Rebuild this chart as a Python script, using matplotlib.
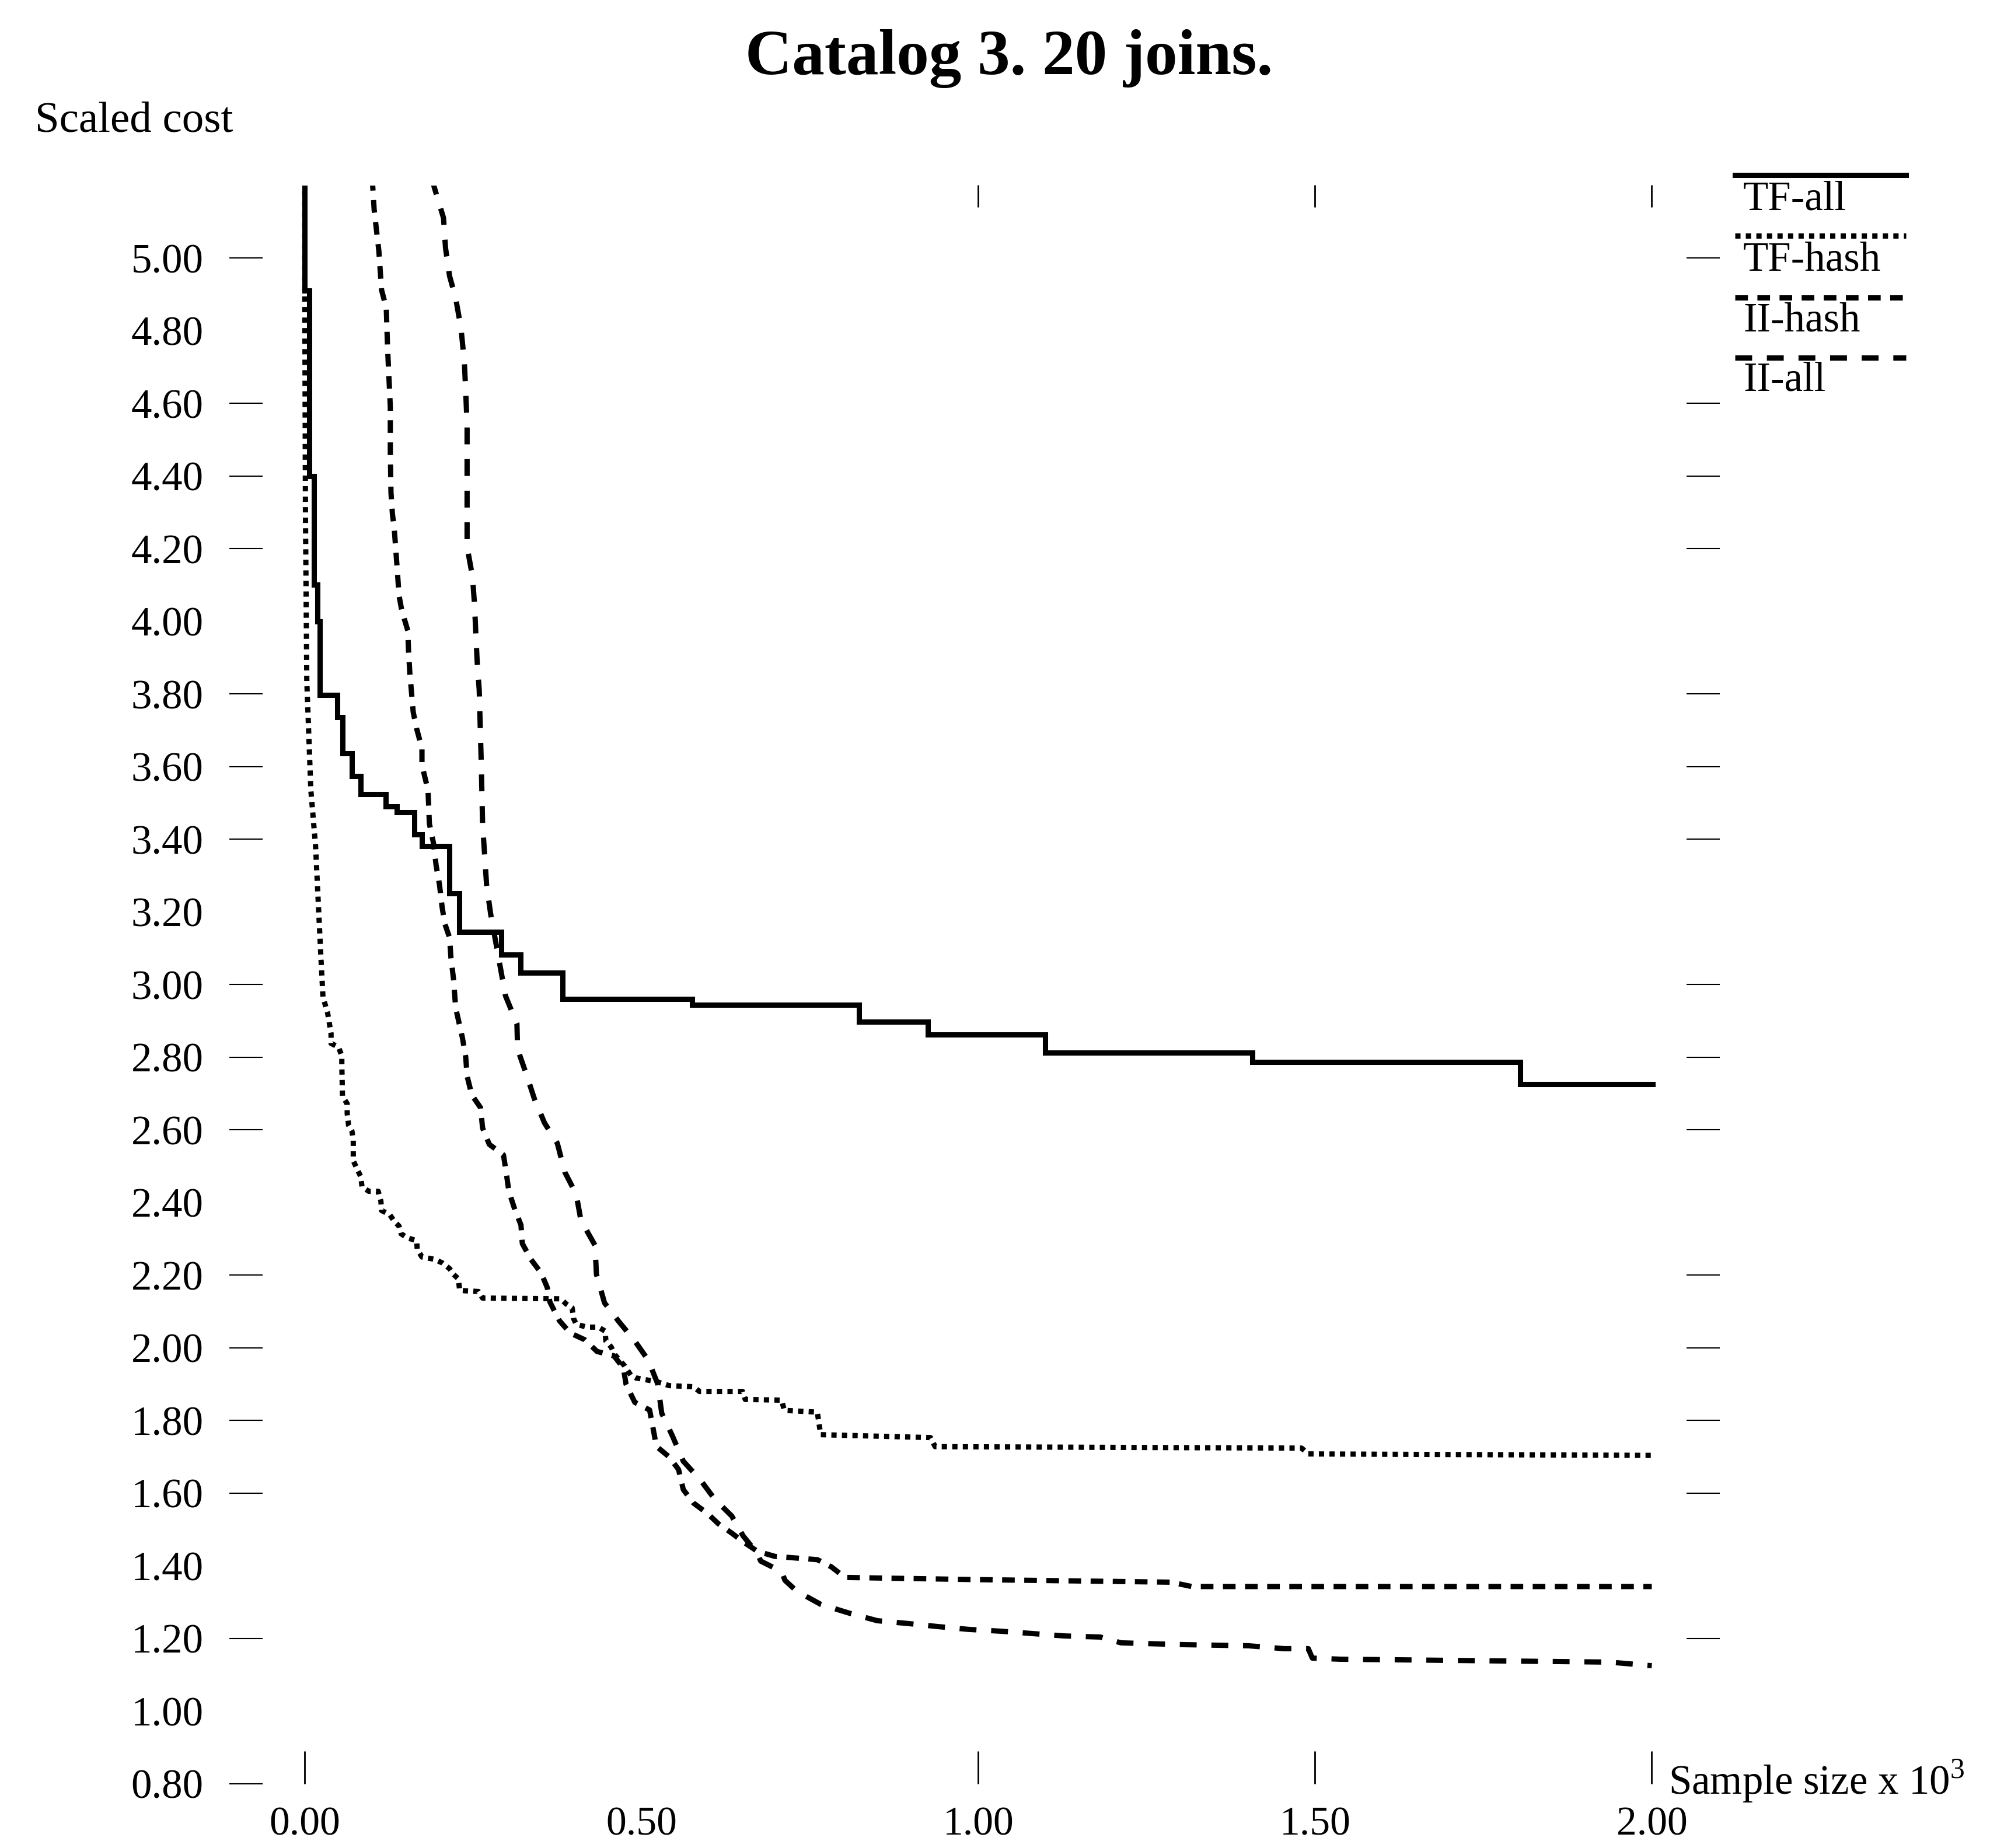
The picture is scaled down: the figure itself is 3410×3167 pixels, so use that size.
import matplotlib
matplotlib.use("Agg")
import matplotlib.pyplot as plt
from matplotlib.lines import Line2D

plt.rcParams['font.family'] = ['Liberation Serif', 'DejaVu Serif']
plt.rcParams['mathtext.fontset'] = 'custom'
plt.rcParams['mathtext.rm'] = 'Liberation Serif'

# ---------------- data ----------------
title = "Catalog 3. 20 joins."
y_label = "Scaled cost"
x_label = r"Sample size x 10$^{3}$"
series_names = ["TF-all", "TF-hash", "II-hash", "II-all"]

y_tick_values = [0.80, 1.00, 1.20, 1.40, 1.60, 1.80, 2.00, 2.20, 2.40, 2.60, 2.80,
                 3.00, 3.20, 3.40, 3.60, 3.80, 4.00, 4.20, 4.40, 4.60, 4.80, 5.00]
y_left_marks = [0.80, 1.20, 1.60, 1.80, 2.00, 2.20, 2.60, 2.80, 3.00, 3.40, 3.60,
                3.80, 4.20, 4.40, 4.60, 5.00]
y_right_marks = [1.20, 1.60, 1.80, 2.00, 2.20, 2.60, 2.80, 3.00, 3.40, 3.60,
                 3.80, 4.20, 4.40, 4.60, 5.00]
x_tick_values = [0.00, 0.50, 1.00, 1.50, 2.00]
x_bottom_marks = [0.00, 1.00, 1.50, 2.00]
x_top_marks = [1.00, 1.50, 2.00]

# TF-all: step curve (drop positions + end, level before first drop then levels after each drop)
tf_all_x = [0.000, 0.007, 0.014, 0.019, 0.022, 0.048, 0.056, 0.070, 0.083, 0.120,
            0.137, 0.163, 0.174, 0.215, 0.229, 0.292, 0.320, 0.383, 0.575, 0.823,
            0.925, 1.099, 1.407, 1.805, 2.001]
tf_all_y = [5.30, 4.91, 4.40, 4.10, 4.00, 3.797, 3.736, 3.636, 3.573, 3.524,
            3.490, 3.474, 3.413, 3.381, 3.251, 3.145, 3.082, 3.032, 2.960, 2.944,
            2.897, 2.862, 2.812, 2.786, 2.725]

tf_hash_x = [0.000, 0.000, 0.001, 0.003, 0.009, 0.016, 0.020, 0.024, 0.027, 0.034,
             0.039, 0.039, 0.050, 0.055, 0.055, 0.056, 0.063, 0.063, 0.065, 0.070,
             0.072, 0.072, 0.078, 0.083, 0.085, 0.095, 0.109, 0.113, 0.114, 0.126,
             0.133, 0.140, 0.143, 0.152, 0.166, 0.167, 0.174, 0.192, 0.204, 0.215,
             0.221, 0.228, 0.230, 0.258, 0.264, 0.380, 0.388, 0.397, 0.399, 0.403,
             0.419, 0.436, 0.446, 0.447, 0.455, 0.460, 0.475, 0.484, 0.492, 0.507,
             0.524, 0.541, 0.577, 0.586, 0.650, 0.654, 0.708, 0.712, 0.761, 0.766,
             0.929, 0.936, 1.480, 1.490, 2.000]
tf_hash_y = [5.30, 4.92, 4.30, 3.835, 3.535, 3.382, 3.227, 3.073, 2.966, 2.921,
             2.865, 2.838, 2.828, 2.804, 2.777, 2.692, 2.672, 2.645, 2.613, 2.597,
             2.571, 2.515, 2.491, 2.472, 2.443, 2.431, 2.431, 2.404, 2.378, 2.367,
             2.348, 2.335, 2.314, 2.303, 2.295, 2.271, 2.250, 2.244, 2.234, 2.218,
             2.202, 2.190, 2.158, 2.155, 2.137, 2.135, 2.121, 2.110, 2.081, 2.065,
             2.057, 2.057, 2.046, 2.019, 2.002, 1.982, 1.950, 1.925, 1.917, 1.912,
             1.906, 1.896, 1.893, 1.880, 1.880, 1.858, 1.856, 1.828, 1.823, 1.761,
             1.753, 1.728, 1.724, 1.708, 1.704]

ii_hash_x = [0.100, 0.101, 0.103, 0.110, 0.114, 0.121, 0.123, 0.127, 0.127, 0.128,
             0.130, 0.133, 0.137, 0.140, 0.144, 0.153, 0.154, 0.156, 0.161, 0.166,
             0.174, 0.174, 0.183, 0.185, 0.191, 0.195, 0.200, 0.204, 0.208, 0.215,
             0.217, 0.221, 0.224, 0.234, 0.239, 0.241, 0.248, 0.261, 0.264, 0.274,
             0.295, 0.299, 0.303, 0.312, 0.321, 0.323, 0.336, 0.351, 0.360, 0.364,
             0.378, 0.394, 0.416, 0.434, 0.459, 0.473, 0.477, 0.490, 0.512, 0.519,
             0.522, 0.541, 0.555, 0.562, 0.577, 0.598, 0.614, 0.634, 0.651, 0.672,
             0.698, 0.761, 0.782, 0.802, 1.000, 1.286, 1.317, 2.000]
ii_hash_y = [5.22, 5.194, 5.133, 5.019, 4.912, 4.862, 4.748, 4.590, 4.467, 4.354,
             4.298, 4.251, 4.150, 4.070, 4.030, 3.974, 3.920, 3.857, 3.750, 3.705,
             3.650, 3.604, 3.535, 3.443, 3.390, 3.328, 3.275, 3.212, 3.167, 3.129,
             3.074, 3.013, 2.936, 2.854, 2.800, 2.748, 2.696, 2.661, 2.605, 2.560,
             2.531, 2.484, 2.431, 2.380, 2.338, 2.287, 2.243, 2.206, 2.166, 2.126,
             2.075, 2.041, 2.022, 1.990, 1.978, 1.945, 1.900, 1.850, 1.829, 1.760,
             1.729, 1.700, 1.665, 1.610, 1.573, 1.544, 1.516, 1.490, 1.466, 1.440,
             1.426, 1.417, 1.397, 1.368, 1.362, 1.355, 1.343, 1.343]

ii_all_x = [0.190, 0.192, 0.206, 0.209, 0.215, 0.224, 0.232, 0.237, 0.239, 0.241,
            0.241, 0.241, 0.249, 0.252, 0.254, 0.256, 0.259, 0.262, 0.264, 0.270,
            0.276, 0.298, 0.315, 0.316, 0.329, 0.341, 0.356, 0.375, 0.386, 0.403,
            0.410, 0.431, 0.433, 0.445, 0.466, 0.490, 0.510, 0.524, 0.530, 0.546,
            0.562, 0.588, 0.608, 0.634, 0.651, 0.672, 0.677, 0.708, 0.713, 0.730,
            0.766, 0.808, 0.850, 0.897, 0.939, 0.986, 1.034, 1.128, 1.181, 1.212,
            1.307, 1.401, 1.454, 1.490, 1.496, 1.537, 1.937, 2.000]
ii_all_y = [5.22, 5.196, 5.110, 5.027, 4.950, 4.890, 4.806, 4.712, 4.630, 4.539,
            4.293, 4.205, 4.123, 4.047, 3.965, 3.888, 3.811, 3.612, 3.443, 3.273,
            3.194, 2.969, 2.892, 2.822, 2.753, 2.685, 2.619, 2.563, 2.484, 2.423,
            2.351, 2.282, 2.203, 2.124, 2.073, 2.019, 1.966, 1.901, 1.820, 1.757,
            1.688, 1.635, 1.585, 1.537, 1.482, 1.434, 1.413, 1.384, 1.360, 1.331,
            1.294, 1.270, 1.249, 1.241, 1.233, 1.225, 1.220, 1.207, 1.204, 1.188,
            1.183, 1.180, 1.172, 1.172, 1.146, 1.143, 1.135, 1.125]

# ---------------- styles / layout ----------------
W, H = 3410, 3167
LW = 6.5
styles = {
    "TF-all": "-",
    "TF-hash": (0, (1.0, 1.0)),
    "II-hash": (0, (2.4, 1.8)),
    "II-all": (0, (3.2, 2.8)),
}

fig = plt.figure(figsize=(W / 100, H / 100), dpi=100)
fig.patch.set_facecolor("white")
ax = fig.add_axes([393 / W, 1 - 3057 / H, (2947 - 393) / W, (3057 - 317.5) / H])
ax.set_xlim(-0.112, 2.101)
ax.set_ylim(0.80, 5.20)
for s in ax.spines.values():
    s.set_visible(False)

ax.step(tf_all_x, tf_all_y, where="pre", color="black", lw=LW,
        linestyle=styles["TF-all"], solid_joinstyle="miter")
ax.plot(tf_hash_x, tf_hash_y, color="black", lw=LW, linestyle=styles["TF-hash"])
ax.plot(ii_hash_x, ii_hash_y, color="black", lw=LW, linestyle=styles["II-hash"])
ax.plot(ii_all_x, ii_all_y, color="black", lw=LW, linestyle=styles["II-all"])

ax.xaxis.remove_overlapping_locs = False
ax.yaxis.remove_overlapping_locs = False

# y ticks (labels on the left; tick marks drawn separately as minor ticks)
ax.set_yticks(y_tick_values)
ax.set_yticklabels([f"{v:.2f}" for v in y_tick_values])
ax.tick_params(axis="y", which="major", length=0, pad=32, labelsize=51,
               left=True, right=False)
ax.set_yticks(y_left_marks, minor=True)
ax.tick_params(axis="y", which="minor", direction="in", length=41, width=1.5,
               left=True, right=False)

secy = ax.secondary_yaxis("right")
secy.set_yticks(y_right_marks)
secy.tick_params(axis="y", direction="in", length=41, width=1.5, labelright=False)
for s in secy.spines.values():
    s.set_visible(False)

# x ticks
ax.set_xticks(x_tick_values)
ax.set_xticklabels([f"{v:.2f}" for v in x_tick_values])
ax.tick_params(axis="x", which="major", length=0, pad=28, labelsize=50)
ax.set_xticks(x_bottom_marks, minor=True)
ax.tick_params(axis="x", which="minor", direction="in", length=40, width=2.0,
               bottom=True, top=False)

secx = ax.secondary_xaxis("top")
secx.set_xticks(x_top_marks)
secx.tick_params(axis="x", direction="in", length=27, width=2.0, labeltop=False)
for s in secx.spines.values():
    s.set_visible(False)

# texts
fig.text(1729 / W, 1 - 127 / H, title, ha="center", va="baseline",
         fontsize=80, fontweight="bold")
fig.text(60 / W, 1 - 225 / H, y_label, ha="left", va="baseline", fontsize=54)
fig.text(2859 / W, 1 - 3075 / H, x_label, ha="left", va="baseline", fontsize=51)

# legend (line sample above each name)
leg_line_y = [300, 404, 510, 613]
leg_text_y = [360, 464, 568, 670]
for name, ly, ty in zip(series_names, leg_line_y, leg_text_y):
    line = Line2D([2973 / W, 3266 / W], [1 - ly / H, 1 - ly / H],
                  transform=fig.transFigure, color="black", lw=LW,
                  linestyle=styles[name])
    fig.add_artist(line)
    fig.text(2987 / W, 1 - ty / H, name, ha="left", va="baseline", fontsize=51)

fig.savefig("out.png", dpi=100, facecolor="white")
